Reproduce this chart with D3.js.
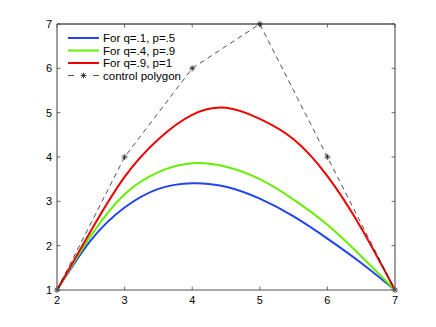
<!DOCTYPE html>
<html>
<head>
<meta charset="utf-8">
<script src="https://cdn.jsdelivr.net/npm/d3@7"></script>
<style>
  body { margin: 0; background: #fff; }
  svg text { font-family: "Liberation Sans", Arial, sans-serif; font-size: 11px; fill: #000; }
  svg .legend text { font-size: 11.5px; }
</style>
</head>
<body>
<svg id="chart" width="436" height="327"></svg>
<script>
// values
var xs = [2, 2.5, 3, 3.5, 4, 4.5, 5, 5.5, 6, 6.5, 7];
var blueY = [1, 2.12, 2.86, 3.28, 3.41, 3.33, 3.06, 2.66, 2.16, 1.61, 1];
var greenY = [1, 2.22, 3.16, 3.66, 3.86, 3.78, 3.50, 3.04, 2.47, 1.76, 1];
var redY = [1, 2.33, 3.55, 4.40, 4.95, 5.11, 4.86, 4.40, 3.57, 2.40, 1];
var polyX = [2, 3, 4, 5, 6, 7];
var polyY = [1, 4, 6, 7, 4, 1];
var legendLabels = ["For q=.1, p=.5", "For q=.4, p=.9", "For q=.9, p=1", "control polygon"];
var xTicks = [2, 3, 4, 5, 6, 7];
var yTicks = [1, 2, 3, 4, 5, 6, 7];

var margin = {top: 24, right: 41, bottom: 37, left: 57},
  width = 436 - margin.left - margin.right,
  height = 327 - margin.top - margin.bottom;

var svg = d3.select("#chart");
var g = svg.append("g")
  .attr("transform", "translate(" + margin.left + "," + margin.top + ")");

var x = d3.scaleLinear().domain([2, 7]).range([0, width]);
var y = d3.scaleLinear().domain([1, 7]).range([height, 0]);

var series = [
  {name: legendLabels[0], color: "#2244ee", values: blueY},
  {name: legendLabels[1], color: "#66ee00", values: greenY},
  {name: legendLabels[2], color: "#ee0000", values: redY}
];

var line = d3.line()
  .x(function(d) { return x(d[0]); })
  .y(function(d) { return y(d[1]); })
  .curve(d3.curveNatural);

// star marker like matlab '*'
function star(cx, cy, r) {
  var d = r * 0.72;
  return "M" + (cx - r) + "," + cy + "H" + (cx + r) +
    "M" + cx + "," + (cy - r) + "V" + (cy + r) +
    "M" + (cx - d) + "," + (cy - d) + "L" + (cx + d) + "," + (cy + d) +
    "M" + (cx - d) + "," + (cy + d) + "L" + (cx + d) + "," + (cy - d);
}

// curves
series.forEach(function(s) {
  g.append("path")
    .datum(xs.map(function(v, i) { return [v, s.values[i]]; }))
    .attr("fill", "none")
    .attr("stroke", s.color)
    .attr("stroke-width", 2)
    .attr("d", line);
});

// control polygon
var poly = polyX.map(function(v, i) { return [v, polyY[i]]; });
g.append("path")
  .datum(poly)
  .attr("fill", "none")
  .attr("stroke", "#222")
  .attr("stroke-width", 0.8)
  .attr("stroke-dasharray", "5,4")
  .attr("d", d3.line().x(function(d) { return x(d[0]); }).y(function(d) { return y(d[1]); }));

g.selectAll(".mk")
  .data(poly)
  .enter().append("path")
  .attr("class", "mk")
  .attr("fill", "none")
  .attr("stroke", "#222")
  .attr("stroke-width", 0.8)
  .attr("d", function(d) { return star(x(d[0]), y(d[1]), 3); });

// axes box
g.append("line").attr("x1", 0).attr("x2", width).attr("y1", 0).attr("y2", 0)
  .attr("stroke", "#000").attr("stroke-width", 1);
g.append("line").attr("x1", 0).attr("x2", width).attr("y1", height).attr("y2", height)
  .attr("stroke", "#888").attr("stroke-width", 1.6);
g.append("line").attr("x1", 0).attr("x2", 0).attr("y1", 0).attr("y2", height)
  .attr("stroke", "#888").attr("stroke-width", 1.6);
g.append("line").attr("x1", width).attr("x2", width).attr("y1", 0).attr("y2", height)
  .attr("stroke", "#888").attr("stroke-width", 1.6);

// ticks (inside, on all four sides)
var tk = 3.5;
xTicks.forEach(function(t) {
  g.append("line").attr("x1", x(t)).attr("x2", x(t)).attr("y1", height).attr("y2", height - tk)
    .attr("stroke", "#444").attr("stroke-width", 0.8);
  g.append("line").attr("x1", x(t)).attr("x2", x(t)).attr("y1", 0).attr("y2", tk)
    .attr("stroke", "#444").attr("stroke-width", 0.8);
  g.append("text").attr("x", x(t)).attr("y", height + 14)
    .attr("text-anchor", "middle").text(t);
});
yTicks.forEach(function(t) {
  g.append("line").attr("x1", 0).attr("x2", tk).attr("y1", y(t)).attr("y2", y(t))
    .attr("stroke", "#444").attr("stroke-width", 0.8);
  g.append("line").attr("x1", width).attr("x2", width - tk).attr("y1", y(t)).attr("y2", y(t))
    .attr("stroke", "#444").attr("stroke-width", 0.8);
  g.append("text").attr("x", -5).attr("y", y(t) + 4)
    .attr("text-anchor", "end").text(t);
});

// legend
var lg = g.append("g").attr("class", "legend").attr("transform", "translate(11,14)");
var rowH = 12.5;
series.forEach(function(s, i) {
  lg.append("line").attr("x1", 0).attr("x2", 31).attr("y1", i * rowH).attr("y2", i * rowH)
    .attr("stroke", s.color).attr("stroke-width", 2);
  lg.append("text").attr("x", 35).attr("y", i * rowH + 4).text(s.name);
});
var ly = 3 * rowH;
lg.append("line").attr("x1", 0).attr("x2", 31).attr("y1", ly).attr("y2", ly)
  .attr("stroke", "#222").attr("stroke-width", 0.8).attr("stroke-dasharray", "6,19");
lg.append("path").attr("fill", "none").attr("stroke", "#222").attr("stroke-width", 0.8)
  .attr("d", star(15.5, ly, 3));
lg.append("text").attr("x", 35).attr("y", ly + 4).text(legendLabels[3]);
</script>
</body>
</html>
